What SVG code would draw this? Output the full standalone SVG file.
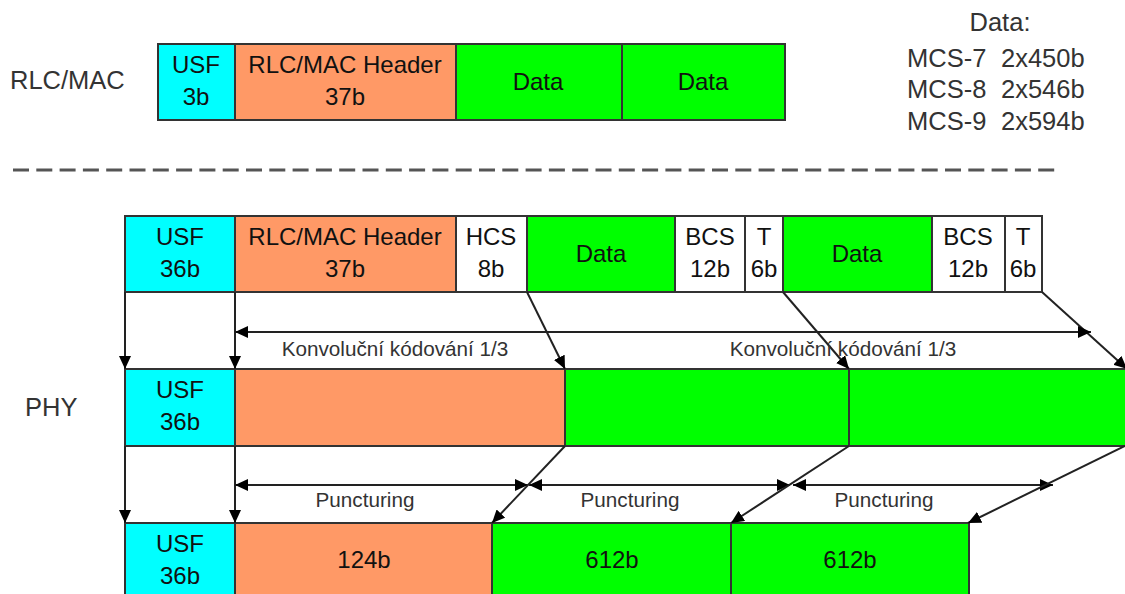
<svg xmlns="http://www.w3.org/2000/svg" width="1125" height="594" viewBox="0 0 1125 594">
<style>
.box{stroke:#333;stroke-width:2}
.usf{fill:#00ffff}
.hdr{fill:#ff9966}
.dat{fill:#00ff00}
.wht{fill:#fff}
.t{font-family:"Liberation Sans",Arial,sans-serif;font-size:24px;fill:#111;text-anchor:middle}
.lbl{font-family:"Liberation Sans",Arial,sans-serif;font-size:25.5px;fill:#333}
.sm{font-family:"Liberation Sans",Arial,sans-serif;font-size:20.7px;fill:#333;text-anchor:middle}
.c{stroke:#222;stroke-width:2;fill:none}
.ce{marker-end:url(#ah)}
.cb{marker-start:url(#ah);marker-end:url(#ah)}
</style>
<defs>
<marker id="ah" markerUnits="userSpaceOnUse" markerWidth="13" markerHeight="12" refX="13" refY="6" orient="auto-start-reverse">
<path d="M0,0 L13,6 L0,12 z" fill="#000"/>
</marker>
</defs>
<rect width="1125" height="594" fill="#fff"/>

<g id="labels">
<text class="lbl" x="10" y="89">RLC/MAC</text>
<text class="lbl" x="25" y="416">PHY</text>
<text class="lbl" x="1000" y="31" text-anchor="middle">Data:</text>
<text class="lbl" y="67"><tspan x="907">MCS-7</tspan><tspan x="1001">2x450b</tspan></text>
<text class="lbl" y="98"><tspan x="907">MCS-8</tspan><tspan x="1001">2x546b</tspan></text>
<text class="lbl" y="130"><tspan x="907">MCS-9</tspan><tspan x="1001">2x594b</tspan></text>
</g>

<g id="separator">
<line x1="13" y1="170" x2="1056" y2="170" stroke="#555" stroke-width="3" stroke-dasharray="16 7.3"/>
</g>

<g id="rlcmac-usf">
<rect class="box usf" x="158" y="44" width="77" height="76"/>
<text class="t" x="196" y="73">USF</text><text class="t" x="196" y="105">3b</text>
</g>
<g id="rlcmac-header">
<rect class="box hdr" x="235" y="44" width="221" height="76"/>
<text class="t" x="345" y="73">RLC/MAC Header</text><text class="t" x="345" y="105">37b</text>
</g>
<g id="rlcmac-data1">
<rect class="box dat" x="456" y="44" width="166" height="76"/>
<text class="t" x="538" y="90">Data</text>
</g>
<g id="rlcmac-data2">
<rect class="box dat" x="622" y="44" width="163" height="76"/>
<text class="t" x="703" y="90">Data</text>
</g>

<g id="phy1-usf">
<rect class="box usf" x="125" y="216" width="110" height="76"/>
<text class="t" x="180" y="245">USF</text><text class="t" x="180" y="277">36b</text>
</g>
<g id="phy1-header">
<rect class="box hdr" x="235" y="216" width="221" height="76"/>
<text class="t" x="345" y="245">RLC/MAC Header</text><text class="t" x="345" y="277">37b</text>
</g>
<g id="phy1-hcs">
<rect class="box wht" x="456" y="216" width="71" height="76"/>
<text class="t" x="491" y="245">HCS</text><text class="t" x="491" y="277">8b</text>
</g>
<g id="phy1-data1">
<rect class="box dat" x="527" y="216" width="148" height="76"/>
<text class="t" x="601" y="262">Data</text>
</g>
<g id="phy1-bcs1">
<rect class="box wht" x="675" y="216" width="70" height="76"/>
<text class="t" x="710" y="245">BCS</text><text class="t" x="710" y="277">12b</text>
</g>
<g id="phy1-t1">
<rect class="box wht" x="745" y="216" width="38" height="76"/>
<text class="t" x="764" y="245">T</text><text class="t" x="764" y="277">6b</text>
</g>
<g id="phy1-data2">
<rect class="box dat" x="783" y="216" width="149" height="76"/>
<text class="t" x="857" y="262">Data</text>
</g>
<g id="phy1-bcs2">
<rect class="box wht" x="932" y="216" width="73" height="76"/>
<text class="t" x="968" y="245">BCS</text><text class="t" x="968" y="277">12b</text>
</g>
<g id="phy1-t2">
<rect class="box wht" x="1005" y="216" width="37" height="76"/>
<text class="t" x="1023" y="245">T</text><text class="t" x="1023" y="277">6b</text>
</g>

<g id="phy2-usf">
<rect class="box usf" x="125" y="369" width="110" height="77"/>
<text class="t" x="180" y="398">USF</text><text class="t" x="180" y="430">36b</text>
</g>
<g id="phy2-header">
<rect class="box hdr" x="235" y="369" width="330" height="77"/>
</g>
<g id="phy2-data1">
<rect class="box dat" x="565" y="369" width="284" height="77"/>
</g>
<g id="phy2-data2">
<rect class="box dat" x="849" y="369" width="280" height="77"/>
</g>

<g id="phy3-usf">
<rect class="box usf" x="125" y="523" width="110" height="80"/>
<text class="t" x="180" y="552">USF</text><text class="t" x="180" y="584">36b</text>
</g>
<g id="phy3-header">
<rect class="box hdr" x="235" y="523" width="257" height="80"/>
<text class="t" x="364" y="568">124b</text>
</g>
<g id="phy3-data1">
<rect class="box dat" x="492" y="523" width="239" height="80"/>
<text class="t" x="612" y="568">612b</text>
</g>
<g id="phy3-data2">
<rect class="box dat" x="731" y="523" width="238" height="80"/>
<text class="t" x="850" y="568">612b</text>
</g>

<g id="connectors">
<line class="c ce" x1="125" y1="292" x2="125" y2="369"/>
<line class="c ce" x1="235" y1="292" x2="235" y2="369"/>
<line class="c ce" x1="125" y1="446" x2="125" y2="523"/>
<line class="c ce" x1="235" y1="446" x2="235" y2="523"/>
<line class="c ce" x1="527" y1="292" x2="565" y2="369"/>
<line class="c ce" x1="783" y1="292" x2="849" y2="369"/>
<line class="c ce" x1="1042" y1="292" x2="1127" y2="369"/>
<line class="c cb" x1="235" y1="332" x2="1091" y2="332"/>
<line class="c cb" x1="235" y1="485" x2="528" y2="485"/>
<line class="c cb" x1="529" y1="485" x2="790" y2="485"/>
<line class="c cb" x1="793" y1="485" x2="1053" y2="485"/>
<line class="c ce" x1="565" y1="446" x2="492" y2="523"/>
<line class="c ce" x1="849" y1="446" x2="731" y2="523"/>
<line class="c ce" x1="1125" y1="446" x2="968" y2="523"/>
</g>

<g id="connector-labels">
<text class="sm" x="395" y="356">Konvoluční kódování 1/3</text>
<text class="sm" x="843" y="356">Konvoluční kódování 1/3</text>
<text class="sm" x="365" y="507">Puncturing</text>
<text class="sm" x="630" y="507">Puncturing</text>
<text class="sm" x="884" y="507">Puncturing</text>
</g>
</svg>
